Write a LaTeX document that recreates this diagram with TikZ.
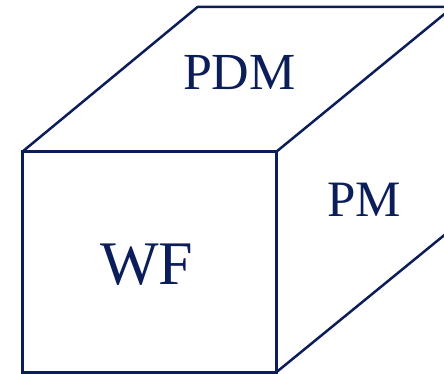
\documentclass[tikz,border=0pt]{standalone}
\usepackage{fontspec}
\setmainfont{Liberation Serif}
\definecolor{navy}{RGB}{12,30,90}
\begin{document}
\begin{tikzpicture}[x=1pt,y=-1pt,
  edge/.style={draw=navy,line width=2.5pt,line join=round},
  front/.style={draw=navy,line width=3pt,line join=miter},
  lbl/.style={text=navy,inner sep=0pt,anchor=base}]
\useasboundingbox (0,0) rectangle (444,374);
\clip (0,0) rectangle (444,374);
\coordinate (A) at (22,152);
\coordinate (B) at (276,152);
\coordinate (C) at (276,372.5);
\coordinate (D) at (22,372.5);
\coordinate (E) at (197.5,7);
\coordinate (F) at (453,7);
\coordinate (G) at (453,228);
\draw[edge] (A) -- (E) -- (F) -- (B);
\draw[edge] (F) -- (G) -- (C);
\draw[front] (A) -- (B) -- (C) -- (D) -- cycle;
\node[lbl,font=\fontsize{52}{52}\selectfont] (pdm) at (239.4,89.3) {PDM};
\node[lbl,font=\fontsize{51}{51}\selectfont] (pm) at (363.9,216.7) {PM};
\node[lbl,font=\fontsize{62}{62}\selectfont] (wf) at (146.7,284.3) {WF};
\end{tikzpicture}
\end{document}
